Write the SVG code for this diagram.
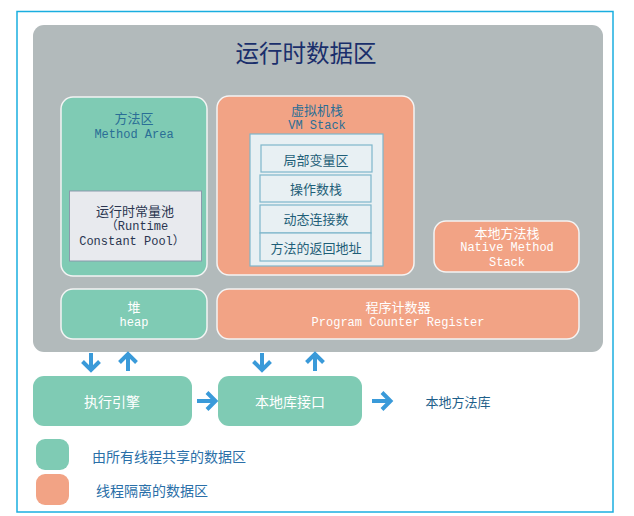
<svg xmlns="http://www.w3.org/2000/svg" width="634" height="516" viewBox="0 0 634 516">
<style>
.cn{font-family:"Noto Sans CJK SC","Noto Sans",sans-serif;text-anchor:middle;dominant-baseline:central}
.mono{font-family:"Liberation Mono","Noto Sans CJK SC",monospace;text-anchor:middle;dominant-baseline:central;font-size:12px}
.green{fill:#7fcbb4;stroke:#f4f4f4;stroke-width:1.5}
.orange{fill:#f2a385;stroke:#f4f4f4;stroke-width:1.5}
.row{fill:#e8f0f3;stroke:#7eb6cb;stroke-width:1.2}
.blue{fill:#2a6e96}
.teal{fill:#1f5f78}
.white{fill:#ffffff}
.arr{fill:none;stroke:#3a9ad9;stroke-width:4}
</style>
<rect x="17" y="11.5" width="596" height="500.5" fill="#ffffff" stroke="#1aaee0" stroke-width="1.5"/>
<g id="runtime-data-area">
<rect x="33" y="25" width="570" height="327" rx="11" fill="#b2babb"/>
<text class="cn" x="306" y="52" font-size="23.5" fill="#1a2f6b">运行时数据区</text>
</g>
<g id="method-area">
<rect class="green" x="61" y="97" width="146" height="179" rx="12"/>
<text class="cn blue" x="134" y="117" font-size="13">方法区</text>
<text class="mono blue" x="134" y="134.5">Method Area</text>
</g>
<g id="runtime-constant-pool">
<rect x="69.5" y="191" width="132" height="70" fill="#e8eaee" stroke="#8a9aac" stroke-width="1"/>
<text class="cn" x="135" y="210" font-size="13" fill="#2a3550">运行时常量池</text>
<text class="mono" x="137" y="227" fill="#2a3550">（Runtime</text>
<text class="mono" x="132" y="242" fill="#2a3550">Constant Pool）</text>
</g>
<g id="vm-stack">
<rect class="orange" x="217" y="96" width="197" height="179" rx="12"/>
<text class="cn blue" x="317" y="109" font-size="13">虚拟机栈</text>
<text class="mono blue" x="317" y="125.5">VM Stack</text>
<rect x="250" y="134" width="133" height="132" fill="#e8f0f3" stroke="#7eb6cb" stroke-width="1.2"/>
</g>
<g id="local-vars">
<rect class="row" x="261" y="145" width="111" height="27"/>
<text class="cn teal" x="316" y="159" font-size="13">局部变量区</text>
</g>
<g id="operand-stack">
<rect class="row" x="260" y="175" width="111" height="27"/>
<text class="cn teal" x="316" y="188" font-size="13">操作数栈</text>
</g>
<g id="dynamic-link">
<rect class="row" x="260" y="205" width="111" height="28"/>
<text class="cn teal" x="316" y="218" font-size="13">动态连接数</text>
</g>
<g id="return-address">
<rect class="row" x="260" y="233" width="111" height="28"/>
<text class="cn teal" x="316" y="247" font-size="13">方法的返回地址</text>
</g>
<g id="native-method-stack">
<rect class="orange" x="434" y="221" width="145" height="51" rx="12"/>
<text class="cn white" x="507" y="232" font-size="13">本地方法栈</text>
<text class="mono white" x="507" y="248">Native Method</text>
<text class="mono white" x="507" y="263">Stack</text>
</g>
<g id="heap">
<rect class="green" x="61" y="289" width="146" height="50" rx="12"/>
<text class="cn white" x="134" y="306" font-size="13">堆</text>
<text class="mono white" x="134" y="323">heap</text>
</g>
<g id="pc-register">
<rect class="orange" x="217" y="289" width="362" height="50" rx="12"/>
<text class="cn white" x="398" y="306" font-size="13">程序计数器</text>
<text class="mono white" x="398" y="323">Program Counter Register</text>
</g>
<g id="execution-engine">
<rect x="33" y="376" width="159" height="50" rx="11" fill="#7fcbb4"/>
<text class="cn white" x="112" y="401" font-size="14">执行引擎</text>
</g>
<g id="native-interface">
<rect x="218" y="376" width="144" height="50" rx="11" fill="#7fcbb4"/>
<text class="cn white" x="290" y="401" font-size="14">本地库接口</text>
</g>
<g id="native-library">
<text class="cn" x="458" y="401" font-size="13" fill="#1e5f8a">本地方法库</text>
</g>
<g id="connectors">
<path class="arr" d="M91 353V370M82.5 361.5L91 370L99.5 361.5"/>
<path class="arr" d="M128 371V354M119.5 362.5L128 354L136.5 362.5"/>
<path class="arr" d="M262 353V370M253.5 361.5L262 370L270.5 361.5"/>
<path class="arr" d="M315 371V354M306.5 362.5L315 354L323.5 362.5"/>
<path class="arr" d="M197 401H215M207 392.5L215.5 401L207 409.5"/>
<path class="arr" d="M372 401H390M382 392.5L390.5 401L382 409.5"/>
</g>
<g id="legend">
<rect x="36" y="439" width="33" height="31" rx="9" fill="#7fcbb4"/>
<rect x="36" y="474" width="33" height="31" rx="9" fill="#f2a385"/>
<text x="92" y="456" font-size="14" fill="#2a6fa8" font-family="Noto Sans CJK SC,sans-serif" dominant-baseline="central">由所有线程共享的数据区</text>
<text x="96" y="490" font-size="14" fill="#2a6fa8" font-family="Noto Sans CJK SC,sans-serif" dominant-baseline="central">线程隔离的数据区</text>
</g>
</svg>
